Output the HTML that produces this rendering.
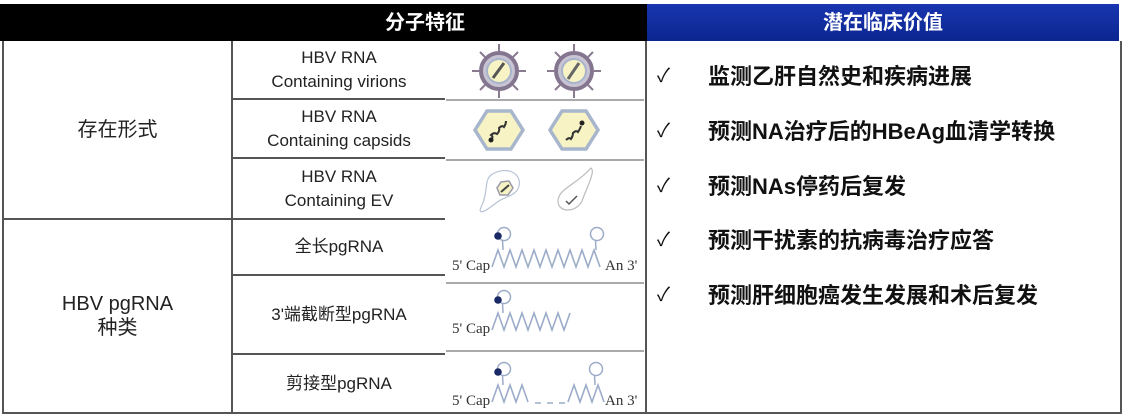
<!DOCTYPE html>
<html><head><meta charset="utf-8"><style>
*{margin:0;padding:0;box-sizing:border-box}
body{width:1124px;height:416px;background:#fff;position:relative;overflow:hidden;font-family:"Liberation Sans","Noto Sans CJK SC",sans-serif}
.a{position:absolute}
.c{position:absolute;display:flex;align-items:center;justify-content:center;text-align:center;color:#222;line-height:24px}
.li{position:absolute;left:708px;font-weight:bold;font-size:22px;color:#111;white-space:nowrap;line-height:26px}
.ck{position:absolute;left:657px;font-size:19px;color:#111;line-height:26px}
</style></head><body>
<div class="a" style="left:0;top:4px;width:647px;height:37px;background:#000"></div>
<div class="a" style="left:647px;top:4px;width:472px;height:37px;background:linear-gradient(#1a36b0,#0b2590)"></div>
<div class="c" style="left:375px;top:4px;width:100px;height:37px;color:#fff;font-weight:bold;font-size:20px">分子特征</div>
<div class="c" style="left:647px;top:4px;width:472px;height:37px;color:#fff;font-weight:bold;font-size:20px">潜在临床价值</div>

<div class="a" style="left:2px;top:41px;width:2px;height:373px;background:#555"></div>
<div class="a" style="left:231px;top:41px;width:2px;height:373px;background:#555"></div>
<div class="a" style="left:645px;top:41px;width:2px;height:373px;background:#555"></div>
<div class="a" style="left:1120px;top:41px;width:2px;height:373px;background:#555"></div>
<div class="a" style="left:2px;top:412px;width:1120px;height:2px;background:#555"></div>
<div class="a" style="left:2px;top:218px;width:443px;height:2px;background:#555"></div>
<div class="a" style="left:232px;top:98px;width:213px;height:2px;background:#555"></div>
<div class="a" style="left:232px;top:157px;width:213px;height:2px;background:#555"></div>
<div class="a" style="left:232px;top:274px;width:213px;height:2px;background:#555"></div>
<div class="a" style="left:232px;top:353px;width:213px;height:2px;background:#555"></div>
<div class="a" style="left:446px;top:99px;width:198px;height:2px;background:#aaa"></div>
<div class="a" style="left:446px;top:159px;width:198px;height:2px;background:#aaa"></div>
<div class="a" style="left:446px;top:282px;width:198px;height:2px;background:#aaa"></div>
<div class="a" style="left:446px;top:350px;width:198px;height:2px;background:#aaa"></div>

<div class="c" style="left:4px;top:41px;width:227px;height:177px;font-size:20px">存在形式</div>
<div class="c" style="left:4px;top:220px;width:227px;height:192px;font-size:20px">HBV pgRNA<br>种类</div>
<div class="c" style="left:233px;top:41px;width:212px;height:57px;font-size:17px">HBV RNA<br>Containing virions</div>
<div class="c" style="left:233px;top:100px;width:212px;height:57px;font-size:17px">HBV RNA<br>Containing capsids</div>
<div class="c" style="left:233px;top:159px;width:212px;height:59px;font-size:17px">HBV RNA<br>Containing EV</div>
<div class="c" style="left:233px;top:220px;width:212px;height:54px;font-size:17px">全长pgRNA</div>
<div class="c" style="left:233px;top:276px;width:212px;height:77px;font-size:17px">3'端截断型pgRNA</div>
<div class="c" style="left:233px;top:355px;width:212px;height:57px;font-size:17px">剪接型pgRNA</div>

<svg class="a" style="left:446px;top:41px" width="199" height="371">
<defs>
<g id="vir"><g stroke="#8a7a90" stroke-width="2">
<line x1="0" y1="-27" x2="0" y2="-20"/><line x1="0" y1="27" x2="0" y2="20"/><line x1="-27" y1="0" x2="-20" y2="0"/><line x1="27" y1="0" x2="20" y2="0"/>
<line x1="-19" y1="-19" x2="-14" y2="-14"/><line x1="19" y1="19" x2="14" y2="14"/><line x1="19" y1="-19" x2="14" y2="-14"/><line x1="-19" y1="19" x2="-14" y2="14"/></g>
<circle r="18" fill="#c9c4d4" stroke="#857690" stroke-width="4"/><circle r="12" fill="#f8f3c4" stroke="#a8b4cc" stroke-width="2"/></g>
<g id="cap"><polygon points="-24,0 -12,-19 12,-19 24,0 12,19 -12,19" fill="#f8f3c4" stroke="#a7b6cc" stroke-width="3.5"/></g>
<g id="lp"><path d="M0,0 C0,-6 -1,-9 0,-10" stroke="#9cacc8" fill="none" stroke-width="1.5"/><circle cx="1" cy="-16" r="6.5" fill="none" stroke="#9cacc8" stroke-width="1.5"/></g>
</defs>
<use href="#vir" x="53" y="30"/><line x1="47" y1="37" x2="58" y2="22" stroke="#555" stroke-width="3"/>
<use href="#vir" x="128" y="30"/><line x1="122" y1="38" x2="133" y2="22" stroke="#666" stroke-width="3"/>
<use href="#cap" x="53" y="89"/><path d="M45,99 q3,-3 0,-5 q3,-3 6,-1 q3,-3 2,-6 q3,-3 5,-1 q2,-3 2,-6" stroke="#333" fill="none" stroke-width="2"/><circle cx="45" cy="99" r="2.5" fill="#222"/>
<use href="#cap" x="128" y="89"/><path d="M120,99 q3,-3 5,-1 q2,-3 2,-6 q3,-3 5,-1 q2,-3 3,-6" stroke="#333" fill="none" stroke-width="2"/><circle cx="136" cy="82" r="2.5" fill="#222"/>
<path d="M45,134 C60,124 76,132 73,145 C70,156 58,155 50,162 C40,170 30,176 36,164 C42,152 38,140 45,134Z" fill="none" stroke="#b8c4d4" stroke-width="1.2"/>
<polygon points="55,141 63,140 67,147 62,154 54,154 51,147" fill="#f8f3c4" stroke="#99a" stroke-width="1.5"/><line x1="55" y1="151" x2="63" y2="144" stroke="#444" stroke-width="2"/>
<path d="M145,127 C150,130 140,148 136,160 C130,172 112,172 112,160 C112,148 130,144 145,127Z" fill="none" stroke="#bbb" stroke-width="1.2"/>
<path d="M120,160 l3,3 l8,-8" stroke="#555" fill="none" stroke-width="1.5"/>
<g font-family="Liberation Serif,serif" font-size="15" fill="#333">
<text x="6" y="229">5' Cap</text><text x="159" y="229">An 3'</text>
<text x="6" y="292">5' Cap</text>
<text x="6" y="364">5' Cap</text><text x="159" y="364">An 3'</text></g>
<g stroke="#9cacc8" fill="none" stroke-width="1.6">
<path d="M46,226 l6,-17 l6,17 l6,-17 l6,17 l6,-17 l6,17 l6,-17 l6,17 l6,-17 l6,17 l6,-17 l6,17 l6,-17 l6,17 l6,-17 l6,17 l6,-17 l6,17"/>
<path d="M46,289 l6,-17 l6,17 l6,-17 l6,17 l6,-17 l6,17 l6,-17 l6,17 l6,-17 l6,17 l6,-17 l6,17 l6,-17"/>
<path d="M46,361 l6,-17 l6,17 l6,-17 l6,17 l6,-17 l6,17"/>
<path d="M89,362 h6 m6,0 h6 m6,0 h6"/>
<path d="M122,361 l6,-17 l6,17 l6,-17 l6,17 l6,-17 l6,17"/>
</g>
<use href="#lp" x="57" y="209"/><use href="#lp" x="150" y="209"/><circle cx="52" cy="195" r="3.8" fill="#1a2a66"/>
<use href="#lp" x="57" y="272"/><circle cx="52" cy="259" r="3.8" fill="#1a2a66"/>
<use href="#lp" x="57" y="344"/><use href="#lp" x="149" y="344"/><circle cx="52" cy="331" r="3.8" fill="#1a2a66"/>
</svg>

<div class="ck" style="top:64px">✓</div><div class="li" style="top:64px">监测乙肝自然史和疾病进展</div>
<div class="ck" style="top:119px">✓</div><div class="li" style="top:119px">预测NA治疗后的HBeAg血清学转换</div>
<div class="ck" style="top:174px">✓</div><div class="li" style="top:174px">预测NAs停药后复发</div>
<div class="ck" style="top:228px">✓</div><div class="li" style="top:228px">预测干扰素的抗病毒治疗应答</div>
<div class="ck" style="top:283px">✓</div><div class="li" style="top:283px">预测肝细胞癌发生发展和术后复发</div>
</body></html>
